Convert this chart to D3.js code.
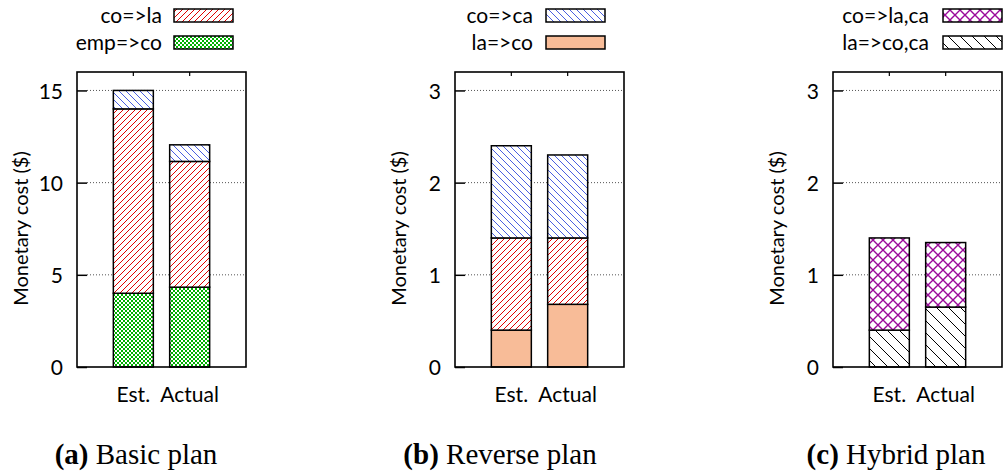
<!DOCTYPE html>
<html>
<head>
<meta charset="utf-8">
<script src="https://cdn.jsdelivr.net/npm/d3@7"></script>
<style>
  body { margin: 0; background: #fff; }
  svg { display: block; }
  .tick-label, .legend-label, .cat-label, .y-title { font-family: Lato, "Open Sans", sans-serif; fill: #000; }
  .caption { font-family: "Liberation Serif", "DejaVu Serif", serif; font-size: 29px; fill: #000; }
</style>
</head>
<body>
<div id="chart"></div>
<script>
// ---- data ----
var categories = ["Est.", "Actual"];

// (a) Basic plan
var basicEmpCo = [4.0, 4.33];
var basicCoLa = [10.0, 6.82];
var basicCoCa = [1.0, 0.9];

// (b) Reverse plan
var reverseLaCo = [0.4, 0.68];
var reverseCoLa = [1.0, 0.72];
var reverseCoCa = [1.0, 0.9];

// (c) Hybrid plan
var hybridLaCoCa = [0.4, 0.65];
var hybridCoLaCa = [1.0, 0.7];

var basicTicks = [0, 5, 10, 15];
var smallTicks = [0, 1, 2, 3];

var captionLetters = ["(a)", "(b)", "(c)"];
var captionTexts = ["Basic plan", "Reverse plan", "Hybrid plan"];

// ---- layout ----
var svgWidth = 1003, svgHeight = 475;
var frame = { top: 72, bottom: 367, width: 169 };

var panels = [
  {
    left: 77, yMax: 16, ticks: basicTicks, caption: 0, captionX: 136,
    stack: [
      { values: basicEmpCo, fill: "url(#pat-green)" },
      { values: basicCoLa, fill: "url(#pat-red)" },
      { values: basicCoCa, fill: "url(#pat-blue)" }
    ],
    legend: [
      { label: "co=>la", fill: "url(#pat-red)" },
      { label: "emp=>co", fill: "url(#pat-green)" }
    ],
    legendTextX: 162, legendBoxX: 174
  },
  {
    left: 455, yMax: 3.2, ticks: smallTicks, caption: 1, captionX: 500,
    stack: [
      { values: reverseLaCo, fill: "#f8bc98" },
      { values: reverseCoLa, fill: "url(#pat-red)" },
      { values: reverseCoCa, fill: "url(#pat-blue)" }
    ],
    legend: [
      { label: "co=>ca", fill: "url(#pat-blue)" },
      { label: "la=>co", fill: "#f8bc98" }
    ],
    legendTextX: 533, legendBoxX: 546
  },
  {
    left: 833, yMax: 3.2, ticks: smallTicks, caption: 2, captionX: 896,
    stack: [
      { values: hybridLaCoCa, fill: "url(#pat-black)" },
      { values: hybridCoLaCa, fill: "url(#pat-magenta)" }
    ],
    legend: [
      { label: "co=>la,ca", fill: "url(#pat-magenta)" },
      { label: "la=>co,ca", fill: "url(#pat-black)" }
    ],
    legendTextX: 929, legendBoxX: 943
  }
];

var svg = d3.select("#chart")
  .append("svg")
  .attr("width", svgWidth)
  .attr("height", svgHeight);

// ---- fill patterns ----
var defs = svg.append("defs");

function hatch(id, size, color, dir, width) {
  var p = defs.append("pattern")
    .attr("id", id)
    .attr("patternUnits", "userSpaceOnUse")
    .attr("width", size)
    .attr("height", size);
  p.append("rect").attr("width", size).attr("height", size).attr("fill", "#fff");
  var s = size;
  var d = dir === "/"
    ? `M0,${s} L${s},0 M${-s / 4},${s / 4} L${s / 4},${-s / 4} M${s * 3 / 4},${s * 5 / 4} L${s * 5 / 4},${s * 3 / 4}`
    : `M0,0 L${s},${s} M${-s / 4},${s * 3 / 4} L${s / 4},${s * 5 / 4} M${s * 3 / 4},${-s / 4} L${s * 5 / 4},${s / 4}`;
  p.append("path").attr("d", d).attr("stroke", color).attr("stroke-width", width).attr("fill", "none");
}

hatch("pat-red", 6, "#e00000", "/", 1);
hatch("pat-blue", 7, "#4a5fe0", "\\", 1);
hatch("pat-black", 12, "#000", "\\", 1);

// magenta crosshatch
var mag = defs.append("pattern")
  .attr("id", "pat-magenta")
  .attr("patternUnits", "userSpaceOnUse")
  .attr("width", 10).attr("height", 10);
mag.append("rect").attr("width", 10).attr("height", 10).attr("fill", "#fff");
mag.append("path")
  .attr("d", "M0,0 L10,10 M10,0 L0,10")
  .attr("stroke", "#9a0a9a").attr("stroke-width", 1.4).attr("fill", "none");

// green checker
var grn = defs.append("pattern")
  .attr("id", "pat-green")
  .attr("patternUnits", "userSpaceOnUse")
  .attr("width", 4).attr("height", 4);
grn.append("rect").attr("width", 4).attr("height", 4).attr("fill", "#00b000");
grn.append("rect").attr("x", 0).attr("y", 0).attr("width", 2).attr("height", 2).attr("fill", "#fff");
grn.append("rect").attr("x", 2).attr("y", 2).attr("width", 2).attr("height", 2).attr("fill", "#fff");

// ---- panels ----
panels.forEach(function(panel) {
  var g = svg.append("g").attr("transform", `translate(${panel.left}, 0)`);

  var x = d3.scaleLinear().domain([-1, 2]).range([0, frame.width]);
  var y = d3.scaleLinear().domain([0, panel.yMax]).range([frame.bottom, frame.top]);
  var barHalf = (x(1) - x(0)) * 0.355;

  // grid
  g.append("g").selectAll("line")
    .data(panel.ticks.filter(function(t) { return t > 0; }))
    .enter().append("line")
    .attr("x1", 10).attr("x2", frame.width)
    .attr("y1", function(d) { return y(d); })
    .attr("y2", function(d) { return y(d); })
    .attr("stroke", "#555")
    .attr("stroke-width", 1)
    .attr("stroke-dasharray", "1,2");

  // stacked bars
  categories.forEach(function(cat, i) {
    var base = 0;
    panel.stack.forEach(function(s) {
      var v = s.values[i];
      g.append("rect")
        .attr("x", x(i) - barHalf)
        .attr("width", barHalf * 2)
        .attr("y", y(base + v))
        .attr("height", y(base) - y(base + v))
        .attr("fill", s.fill)
        .attr("stroke", "#000")
        .attr("stroke-width", 1.5);
      base += v;
    });
  });

  // frame
  g.append("rect")
    .attr("x", 0).attr("y", frame.top)
    .attr("width", frame.width).attr("height", frame.bottom - frame.top)
    .attr("fill", "none").attr("stroke", "#000").attr("stroke-width", 1.6);

  // y axis
  var leftAxis = d3.axisLeft(y)
    .tickValues(panel.ticks)
    .tickSizeInner(-10)
    .tickSizeOuter(0)
    .tickPadding(14)
    .tickFormat(d3.format("d"));
  var ax = g.append("g").call(leftAxis);
  ax.select(".domain").remove();
  ax.selectAll(".tick line").attr("stroke", "#000").attr("stroke-width", 1.5);
  ax.selectAll(".tick text")
    .attr("class", "tick-label")
    .style("font-size", "21px")
    .attr("dy", "0.36em");

  // top ticks at bar positions
  g.append("g").selectAll("line")
    .data(categories)
    .enter().append("line")
    .attr("x1", function(d, i) { return x(i); })
    .attr("x2", function(d, i) { return x(i); })
    .attr("y1", frame.top).attr("y2", frame.top + 4)
    .attr("stroke", "#000").attr("stroke-width", 1.2);

  // category labels
  g.append("g").selectAll("text")
    .data(categories)
    .enter().append("text")
    .attr("class", "cat-label")
    .attr("x", function(d, i) { return x(i); })
    .attr("y", 402)
    .attr("text-anchor", "middle")
    .style("font-size", "21px")
    .text(function(d) { return d; });

  // y title
  g.append("text")
    .attr("class", "y-title")
    .attr("transform", `translate(-49, ${(frame.top + frame.bottom) / 2 + 9}) rotate(-90)`)
    .attr("text-anchor", "middle")
    .style("font-size", "20px")
    .text("Monetary cost ($)");

  // legend
  panel.legend.forEach(function(item, j) {
    var cy = 15.5 + j * 27;
    svg.append("text")
      .attr("class", "legend-label")
      .attr("x", panel.legendTextX)
      .attr("y", cy + 7)
      .attr("text-anchor", "end")
      .style("font-size", "21px")
      .text(item.label);
    svg.append("rect")
      .attr("x", panel.legendBoxX)
      .attr("y", cy - 6.5)
      .attr("width", 59)
      .attr("height", 13)
      .attr("fill", item.fill)
      .attr("stroke", "#000")
      .attr("stroke-width", 1.5);
  });

  // caption
  var cap = svg.append("text")
    .attr("class", "caption")
    .attr("x", panel.captionX)
    .attr("y", 464)
    .attr("text-anchor", "middle");
  cap.append("tspan").attr("font-weight", "bold").text(captionLetters[panel.caption]);
  cap.append("tspan").text(" " + captionTexts[panel.caption]);
});
</script>
</body>
</html>
